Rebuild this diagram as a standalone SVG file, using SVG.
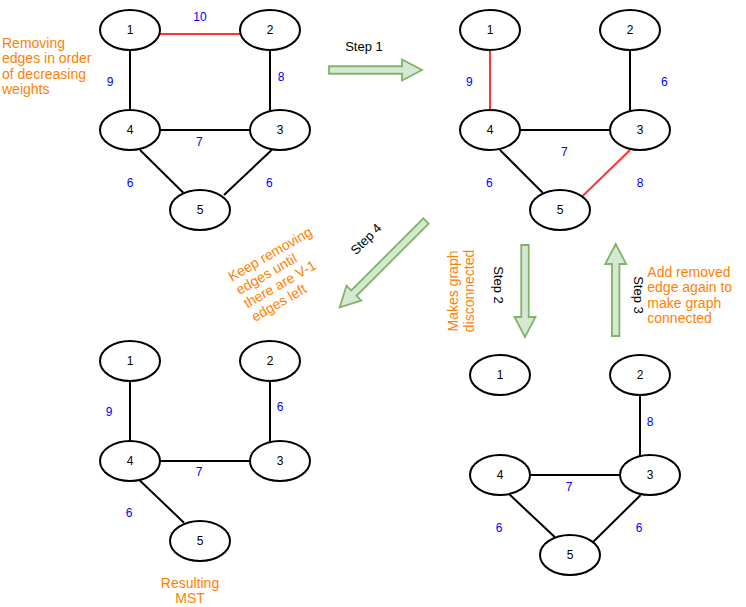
<svg xmlns="http://www.w3.org/2000/svg" width="746" height="607" viewBox="0 0 746 607">
<style>
text{font-family:"Liberation Sans",Arial,Helvetica,sans-serif;}
.node ellipse{fill:#fff;stroke:#000;stroke-width:2;}
.node text{font-size:12px;fill:#000;text-anchor:middle;}
.e{stroke:#000;stroke-width:2;fill:none;}
.r{stroke:#ff3333;stroke-width:2;fill:none;}
.w{font-size:12px;fill:#0000ff;text-anchor:middle;}
.o{font-size:14px;fill:#ff8000;}
.s{font-size:13px;fill:#000;text-anchor:middle;}
.arr{fill:#d5e8d4;stroke:#82b366;stroke-width:1.8;stroke-linejoin:miter;}
</style>
<rect width="746" height="607" fill="#fff"/>

<!-- connectors -->
<g id="connectors">
  <!-- graph A (top-left) -->
  <line class="r" x1="160" y1="34" x2="240" y2="34"/>
  <line class="e" x1="130" y1="50" x2="130" y2="110"/>
  <line class="e" x1="270" y1="50" x2="270" y2="111"/>
  <line class="e" x1="160" y1="130" x2="250" y2="130"/>
  <line class="e" x1="140" y1="150" x2="183.3" y2="192.7"/>
  <line class="e" x1="271.7" y1="150" x2="224" y2="195"/>
  <!-- graph B (top-right) -->
  <line class="r" x1="490" y1="50" x2="490" y2="110"/>
  <line class="e" x1="630" y1="50" x2="630" y2="111"/>
  <line class="e" x1="520" y1="130" x2="610" y2="130"/>
  <line class="e" x1="500" y1="150" x2="542.7" y2="192.7"/>
  <line class="r" x1="630" y1="150" x2="582.7" y2="196"/>
  <!-- graph C (bottom-right) -->
  <line class="e" x1="640" y1="395" x2="640" y2="456"/>
  <line class="e" x1="530" y1="475" x2="620" y2="475"/>
  <line class="e" x1="509.3" y1="494.3" x2="555" y2="537.3"/>
  <line class="e" x1="640.7" y1="495" x2="593.3" y2="541.7"/>
  <!-- graph D (bottom-left) -->
  <line class="e" x1="130" y1="381" x2="130" y2="441"/>
  <line class="e" x1="270" y1="381" x2="270" y2="442"/>
  <line class="e" x1="160" y1="461" x2="250" y2="461"/>
  <line class="e" x1="139.3" y1="480" x2="184" y2="522.7"/>

  <!-- step arrows -->
  <polygon id="step1-arrow" class="arr" points="329,66.25 402,66.25 402,59.5 422,70 402,80.5 402,73.75 329,73.75"/>
  <polygon id="step2-arrow" class="arr" points="521.25,245 528.75,245 528.75,317 535.5,317 525,337 514.5,317 521.25,317"/>
  <polygon id="step3-arrow" class="arr" points="611.95,336 619.45,336 619.45,264 626.2,264 615.7,244 605.2,264 611.95,264"/>
  <polygon id="step4-arrow" class="arr" transform="translate(426,221) rotate(135)" points="0,-3.75 102,-3.75 102,-10.5 122,0 102,10.5 102,3.75 0,3.75"/>
</g>

<!-- edge weights -->
<g id="weights">
  <text class="w" x="200" y="20.7">10</text>
  <text class="w" x="110" y="85.7">9</text>
  <text class="w" x="281" y="81">8</text>
  <text class="w" x="199.3" y="145.7">7</text>
  <text class="w" x="130" y="187.3">6</text>
  <text class="w" x="269.3" y="187.3">6</text>

  <text class="w" x="469.3" y="85.7">9</text>
  <text class="w" x="664.3" y="85.7">6</text>
  <text class="w" x="564.3" y="155.7">7</text>
  <text class="w" x="489.3" y="186.7">6</text>
  <text class="w" x="640" y="186.7">8</text>

  <text class="w" x="650" y="426">8</text>
  <text class="w" x="569" y="491">7</text>
  <text class="w" x="499" y="531.5">6</text>
  <text class="w" x="639" y="531.5">6</text>

  <text class="w" x="109" y="416">9</text>
  <text class="w" x="280" y="411">6</text>
  <text class="w" x="199" y="476">7</text>
  <text class="w" x="129" y="517">6</text>
</g>

<!-- graph A nodes -->
<g id="a1" class="node"><ellipse cx="130" cy="30" rx="30" ry="20"/><text x="130" y="34">1</text></g>
<g id="a2" class="node"><ellipse cx="270" cy="30" rx="30" ry="20"/><text x="270" y="34">2</text></g>
<g id="a3" class="node"><ellipse cx="280" cy="130" rx="30" ry="20"/><text x="280" y="134">3</text></g>
<g id="a4" class="node"><ellipse cx="130" cy="130" rx="30" ry="20"/><text x="130" y="134">4</text></g>
<g id="a5" class="node"><ellipse cx="200" cy="210" rx="30" ry="20"/><text x="200" y="214">5</text></g>

<!-- graph B nodes -->
<g id="b1" class="node"><ellipse cx="490" cy="30" rx="30" ry="20"/><text x="490" y="34">1</text></g>
<g id="b2" class="node"><ellipse cx="630" cy="30" rx="30" ry="20"/><text x="630" y="34">2</text></g>
<g id="b3" class="node"><ellipse cx="640" cy="130" rx="30" ry="20"/><text x="640" y="134">3</text></g>
<g id="b4" class="node"><ellipse cx="490" cy="130" rx="30" ry="20"/><text x="490" y="134">4</text></g>
<g id="b5" class="node"><ellipse cx="560" cy="210" rx="30" ry="20"/><text x="560" y="214">5</text></g>

<!-- graph C nodes -->
<g id="c1" class="node"><ellipse cx="500" cy="375" rx="30" ry="20"/><text x="500" y="379">1</text></g>
<g id="c2" class="node"><ellipse cx="640" cy="375" rx="30" ry="20"/><text x="640" y="379">2</text></g>
<g id="c3" class="node"><ellipse cx="650" cy="475" rx="30" ry="20"/><text x="650" y="479">3</text></g>
<g id="c4" class="node"><ellipse cx="500" cy="475" rx="30" ry="20"/><text x="500" y="479">4</text></g>
<g id="c5" class="node"><ellipse cx="570" cy="555" rx="30" ry="20"/><text x="570" y="559">5</text></g>

<!-- graph D nodes -->
<g id="d1" class="node"><ellipse cx="130" cy="361" rx="30" ry="20"/><text x="130" y="365">1</text></g>
<g id="d2" class="node"><ellipse cx="270" cy="361" rx="30" ry="20"/><text x="270" y="365">2</text></g>
<g id="d3" class="node"><ellipse cx="280" cy="461" rx="30" ry="20"/><text x="280" y="465">3</text></g>
<g id="d4" class="node"><ellipse cx="130" cy="461" rx="30" ry="20"/><text x="130" y="465">4</text></g>
<g id="d5" class="node"><ellipse cx="200" cy="541" rx="30" ry="20"/><text x="200" y="545">5</text></g>

<!-- step labels -->
<g id="labels">
  <text class="s" x="364" y="51">Step 1</text>
  <text class="s" transform="translate(498.3,285) rotate(90)" x="0" y="4.5">Step 2</text>
  <text class="s" transform="translate(638.3,295) rotate(90)" x="0" y="4.5">Step 3</text>
  <text class="s" transform="translate(366,239) rotate(-45)" x="0" y="4.5">Step 4</text>

  <text class="o" x="2" y="47.7">Removing</text>
  <text class="o" x="2" y="63.2">edges in order</text>
  <text class="o" x="2" y="78.7">of decreasing</text>
  <text class="o" x="2" y="94.2">weights</text>

  <g transform="translate(231.7,281.7) rotate(-30)">
    <text class="o" x="0" y="0">Keep removing</text>
    <text class="o" x="0" y="15.5">edges until</text>
    <text class="o" x="0" y="31">there are V-1</text>
    <text class="o" x="0" y="46.5">edges left</text>
  </g>

  <g transform="translate(461,291) rotate(-90)">
    <text class="o" x="0" y="-2.75" text-anchor="middle">Makes graph</text>
    <text class="o" x="0" y="12.75" text-anchor="middle">disconnected</text>
  </g>

  <text class="o" x="647.3" y="276.7">Add removed</text>
  <text class="o" x="647.3" y="292.2">edge again to</text>
  <text class="o" x="647.3" y="307.7">make graph</text>
  <text class="o" x="647.3" y="323.2">connected</text>

  <text class="o" x="190" y="587.5" text-anchor="middle">Resulting</text>
  <text class="o" x="190" y="603" text-anchor="middle">MST</text>
</g>
</svg>
